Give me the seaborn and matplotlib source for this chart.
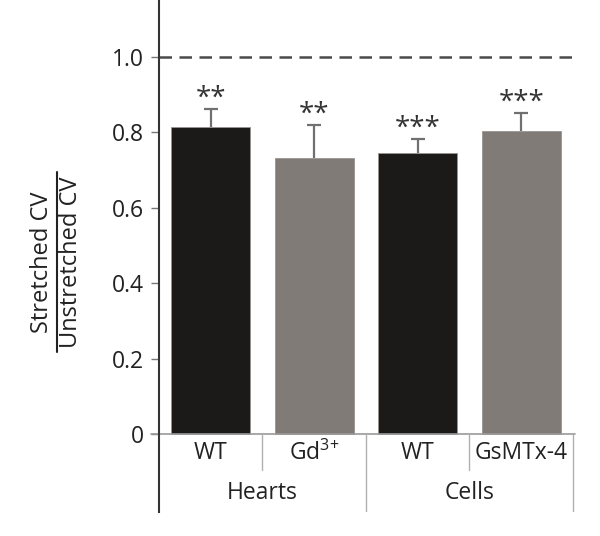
import seaborn as sns
import numpy as np
import pandas as pd
import matplotlib.pyplot as plt
from matplotlib.lines import Line2D

# data
bar_ids = ['hearts_wt', 'hearts_gd', 'cells_wt', 'cells_gsmtx']
bar_labels = ['WT', 'Gd$^{3\\!+}$', 'WT', 'GsMTx-4']
groups = ['Hearts', 'Cells']
means = [0.814, 0.732, 0.745, 0.804]
errors = [0.048, 0.088, 0.037, 0.047]
stars = ['**', '**', '***', '***']
bar_colors = ['#1c1a17', '#837a76', '#1c1a17', '#837a76']

sns.set_style('white')
plt.rcParams['font.family'] = ['Open Sans', 'DejaVu Sans']
plt.rcParams['mathtext.fontset'] = 'custom'
plt.rcParams['mathtext.rm'] = 'Open Sans'
plt.rcParams['mathtext.default'] = 'regular'

df = pd.DataFrame({'id': bar_ids, 'mean': means, 'err': errors})

fig = plt.figure(figsize=(6, 5.36), dpi=100)
ax = fig.add_axes([159 / 600, 24 / 536, 416 / 600, 512 / 536])

sns.barplot(data=df, x='id', y='mean', hue='id', palette=bar_colors, order=bar_ids,
            width=0.76, edgecolor='#9a9490', linewidth=0.6, legend=False, ax=ax)

# upward-only error bars
xs = np.arange(len(bar_ids))
eb = ax.errorbar(xs, means, yerr=[np.zeros(len(errors)), errors], fmt='none',
                 ecolor='#707070', elinewidth=1.6, capsize=5, capthick=1.6)
eb[1][0].set_visible(False)

# significance stars
for x, m, e, s in zip(xs, means, errors, stars):
    ax.text(x, m + e - 0.01, s, ha='center', va='bottom', fontsize=20, color='#333333')

# reference line at 1.0
ax.axhline(1.0, color='#4a4a4a', lw=1.8, ls=(0, (5, 3)))

ax.set_xlim(-0.5, 3.52)
ax.set_ylim(-0.207, 1.151)
ax.set_yticks([0, 0.2, 0.4, 0.6, 0.8, 1.0])
ax.set_yticklabels(['0', '0.2', '0.4', '0.6', '0.8', '1.0'])
ax.tick_params(axis='y', length=6, width=1, color='#777777', pad=5, labelsize=16.5,
               labelcolor='#222222', left=True)
ax.set_xticks([])
ax.set_xlabel('')
ax.set_ylabel('')

for side in ['top', 'right', 'bottom']:
    ax.spines[side].set_visible(False)
ax.spines['left'].set_color('#333333')
ax.spines['left'].set_linewidth(1.5)

# baseline and category dividers
ax.plot([-0.58, 3.52], [0, 0], color='#9a9a9a', lw=1.2, clip_on=False)
for xv in [0.5, 2.5]:
    ax.plot([xv, xv], [0, -0.095], color='#b0b0b0', lw=1.0)
for xv in [1.5, 3.5]:
    ax.plot([xv, xv], [0, -0.207], color='#b0b0b0', lw=1.0)

for x, lab in zip(xs, bar_labels):
    ax.text(x, -0.05, lab, ha='center', va='center', fontsize=16.5, color='#222222')
for i, g in enumerate(groups):
    ax.text(2 * i + 0.5, -0.156, g, ha='center', va='center', fontsize=16.5, color='#222222')

# fraction style y label
fig.text(42 / 600, 1 - 262 / 536, 'Stretched CV', rotation=90, ha='center', va='center',
         fontsize=17, color='#222222')
fig.text(71 / 600, 1 - 262 / 536, 'Unstretched CV', rotation=90, ha='center', va='center',
         fontsize=17, color='#222222')
fig.add_artist(Line2D([57 / 600, 57 / 600], [1 - 172 / 536, 1 - 352 / 536],
                      transform=fig.transFigure, color='#222222', lw=1.5))

plt.savefig('out.png', dpi=100)
